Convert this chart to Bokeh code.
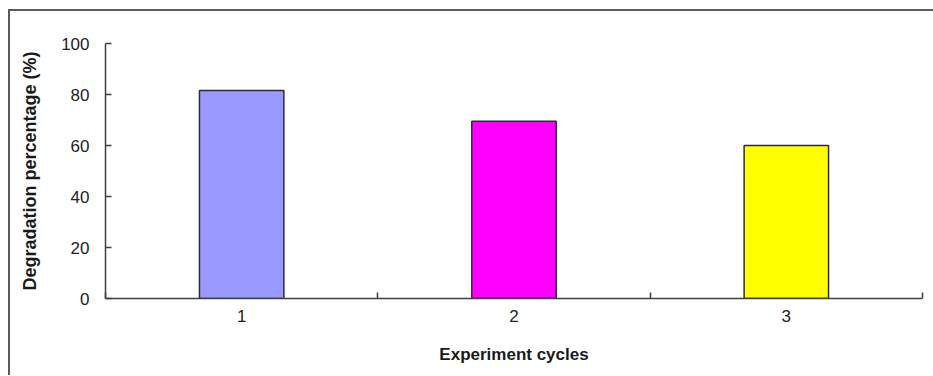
from bokeh.plotting import figure
from bokeh.models import ColumnDataSource, FixedTicker, Range1d
from bokeh.embed import file_html
from bokeh.resources import INLINE

cycles = [1, 2, 3]
cycle_labels = ["1", "2", "3"]
degradation = [81.6, 69.5, 60.0]
colors = ["#9999FF", "#FF00FF", "#FFFF00"]
y_ticks = [0, 20, 40, 60, 80, 100]

src = ColumnDataSource(dict(x=cycles, top=degradation, color=colors))

p = figure(
    output_backend="svg", toolbar_location=None,
    frame_width=817, frame_height=255,
    min_border_left=95, min_border_right=11, min_border_top=32, min_border_bottom=77,
    x_range=Range1d(0.5, 3.5), y_range=Range1d(0, 100),
    margin=(9, 0, 0, 8),
    styles={"border-left": "2px solid #5a5a5a", "border-top": "2px solid #5a5a5a"},
)
p.vbar(x="x", top="top", width=0.31, bottom=0, source=src,
       fill_color="color", line_color="#2b2b3a", line_width=1.5)

p.grid.visible = False
p.outline_line_color = None
p.background_fill_color = "white"
p.border_fill_color = "white"

xa = p.xaxis[0]
xa.ticker = FixedTicker(ticks=cycles, minor_ticks=[0.5, 1.5, 2.5, 3.5])
xa.major_label_overrides = {c: l for c, l in zip(cycles, cycle_labels)}
xa.major_tick_in = 0
xa.major_tick_out = 0
xa.minor_tick_in = 6
xa.minor_tick_out = 0
xa.minor_tick_line_color = "#404040"
xa.minor_tick_line_width = 1.5
xa.axis_line_color = "#404040"
xa.axis_line_width = 1.5
xa.major_label_text_font = "Liberation Sans"
xa.major_label_text_font_size = "17px"
xa.major_label_text_color = "#222222"
xa.major_label_standoff = 11
xa.axis_label = "Experiment cycles"
xa.axis_label_text_font = "Liberation Sans"
xa.axis_label_text_font_style = "bold"
xa.axis_label_text_font_size = "17px"
xa.axis_label_text_color = "#1a1a1a"
xa.axis_label_standoff = 20

ya = p.yaxis[0]
ya.ticker = FixedTicker(ticks=y_ticks, minor_ticks=[])
ya.major_tick_in = 6
ya.major_tick_out = 0
ya.major_tick_line_color = "#404040"
ya.major_tick_line_width = 1.5
ya.axis_line_color = "#404040"
ya.axis_line_width = 1.5
ya.major_label_text_font = "Liberation Sans"
ya.major_label_text_font_size = "17px"
ya.major_label_text_color = "#222222"
ya.major_label_standoff = 16
ya.axis_label = "Degradation percentage (%)"
ya.axis_label_text_font = "Liberation Sans"
ya.axis_label_text_font_style = "bold"
ya.axis_label_text_font_size = "18px"
ya.axis_label_text_color = "#1a1a1a"
ya.axis_label_standoff = 18

open("out.html", "w").write(file_html(p, INLINE))
